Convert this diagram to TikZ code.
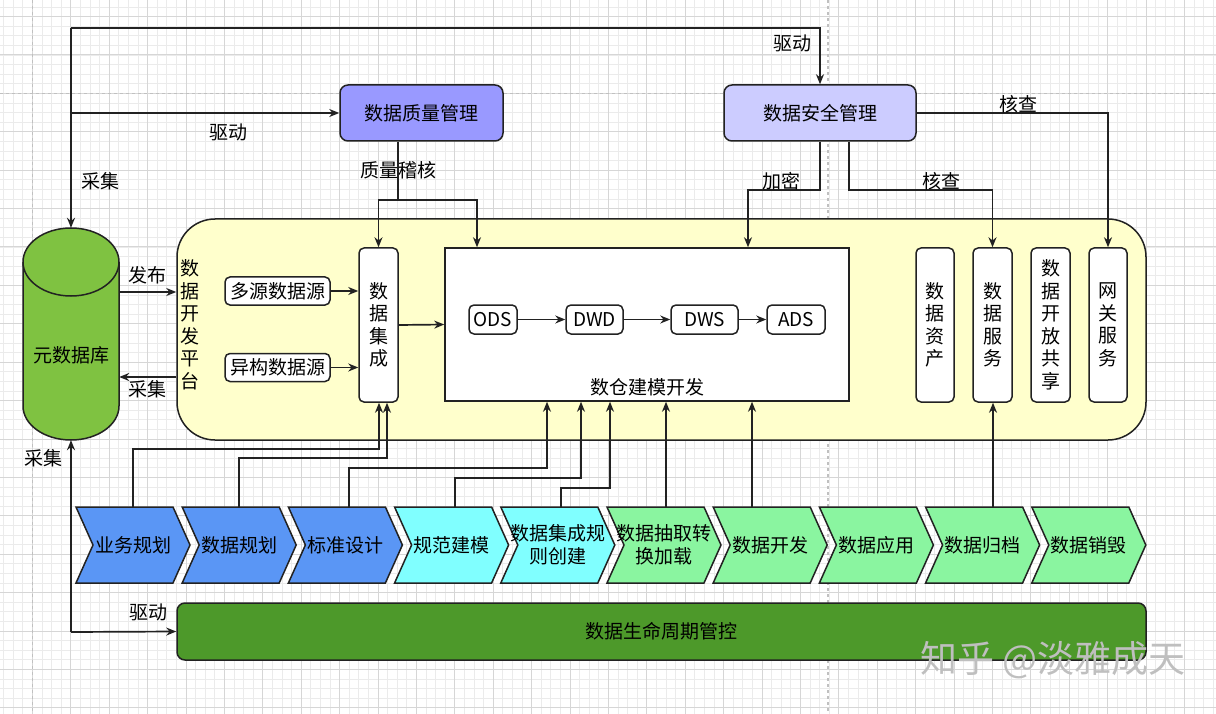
\documentclass[tikz,border=0pt]{standalone}
\usepackage{fontspec}
\setmainfont{Noto Sans CJK SC}
\usetikzlibrary{arrows.meta}
\definecolor{qmcol}{HTML}{9999FF}
\definecolor{smcol}{HTML}{CCCCFF}
\definecolor{platcol}{HTML}{FFFFCC}
\definecolor{dbcol}{HTML}{7FC241}
\definecolor{lifecol}{HTML}{4D992A}
\definecolor{cblue}{HTML}{5A96F5}
\definecolor{ccyan}{HTML}{80FFFF}
\definecolor{cgreen}{HTML}{8AF5A0}
\definecolor{lnc}{HTML}{222222}
\definecolor{gminor}{HTML}{EBEBEB}
\definecolor{gmajor}{HTML}{D6D6D6}
\definecolor{gpage}{HTML}{C0C0C0}
\newcommand\myfs{\fontsize{19}{22.5}\selectfont}
\tikzset{
  lbl/.style={font=\myfs, inner sep=0pt, text=black},
  box/.style={draw=lnc, line width=1.5pt, rounded corners=5pt, fill=white, inner sep=0pt, font=\myfs, align=center},
  arr/.style={-{Stealth[length=10pt,width=8pt]}, line width=1.7pt, draw=lnc},
  ln/.style={line width=1.7pt, draw=lnc},
  chev/.style={draw=lnc, line width=1.5pt},
}
\begin{document}
\begin{tikzpicture}[x=1pt,y=-1pt]
\useasboundingbox (0,0) rectangle (1216,714);
\fill[white] (0,0) rectangle (1216,714);
% grid
\foreach \k in {0,...,126} \draw[gminor, line width=0.7pt] ({3.5+9.6*\k},0) -- ({3.5+9.6*\k},714);
\foreach \k in {0,...,74} \draw[gminor, line width=0.7pt] (0,{6.9+9.6*\k}) -- (1216,{6.9+9.6*\k});
\foreach \k in {0,...,31} \draw[gmajor, line width=0.8pt] ({32.3+38.4*\k},0) -- ({32.3+38.4*\k},714);
\foreach \k in {0,...,18} \draw[gmajor, line width=0.8pt] (0,{16.5+38.4*\k}) -- (1216,{16.5+38.4*\k});
\draw[gpage, dashed, line width=1.2pt] (32.3,0) -- (32.3,714);
\draw[gpage, dashed, line width=1.2pt] (828,0) -- (828,714);
\draw[gpage, dashed, line width=1.2pt] (0,93.3) -- (1216,93.3);

% platform
\node[draw=lnc, line width=1.5pt, fill=platcol, rounded corners=38pt, minimum width=969pt, minimum height=221pt, inner sep=0pt] (plat) at (661.5,329.5) {};
\node[lbl, align=center] (plabel) at (190,325) {数\\据\\开\\发\\平\\台};

% top management boxes
\node[box, fill=qmcol, rounded corners=8pt, minimum width=163pt, minimum height=56pt] (qm) at (421.5,113) {数据质量管理};
\node[box, fill=smcol, rounded corners=8pt, minimum width=192pt, minimum height=56pt] (sm) at (820,113) {数据安全管理};

% metadata cylinder
\node[minimum width=96pt, minimum height=212pt, inner sep=0pt] (db) at (71,334) {};
\draw[fill=dbcol, draw=lnc, line width=1.5pt] (23,262) -- (23,406) arc (180:360:48pt and 34pt) -- (119,262) arc (0:180:48pt and 34pt) -- cycle;
\draw[draw=lnc, line width=1.5pt] (23,262) arc (180:360:48pt and 34pt);
\node[lbl] at (71,355) {元数据库};

% sources and integration
\node[box, minimum width=105pt, minimum height=28pt] (src1) at (277.5,291) {多源数据源};
\node[box, minimum width=105pt, minimum height=28pt] (src2) at (277.5,367.5) {异构数据源};
\node[box, minimum width=39pt, minimum height=154pt] (integ) at (378.5,325) {数\\据\\集\\成};

% warehouse
\node[draw=lnc, line width=1.5pt, fill=white, minimum width=404pt, minimum height=153pt, inner sep=0pt] (dw) at (647,324.5) {};
\node[lbl] (dwlabel) at (647,387) {数仓建模开发};
\node[box, minimum width=48pt, minimum height=29pt] (ods) at (493,319.5) {ODS};
\node[box, minimum width=57pt, minimum height=29pt] (dwd) at (594.5,319.5) {DWD};
\node[box, minimum width=67pt, minimum height=29pt] (dws) at (704.5,319.5) {DWS};
\node[box, minimum width=58pt, minimum height=29pt] (ads) at (796,319.5) {ADS};

% right columns
\node[box, minimum width=38pt, minimum height=154pt] (asset) at (935,325) {数\\据\\资\\产};
\node[box, minimum width=39pt, minimum height=154pt] (service) at (992.5,325) {数\\据\\服\\务};
\node[box, minimum width=39pt, minimum height=154pt] (share) at (1050.5,325) {数\\据\\开\\放\\共\\享};
\node[box, minimum width=38pt, minimum height=154pt] (gateway) at (1108,325) {网\\关\\服\\务};

% chevrons
\foreach \i/\t/\c in {0/业务规划/cblue, 1/数据规划/cblue, 2/标准设计/cblue, 3/规范建模/ccyan, 4/{数据集成规\\则创建}/ccyan, 5/{数据抽取转\\换加载}/cgreen, 6/数据开发/cgreen, 7/数据应用/cgreen, 8/数据归档/cgreen, 9/数据销毁/cgreen} {
  \pgfmathsetmacro\L{76+106.2*\i}
  \draw[chev, fill=\c] (\L,507) -- ++(97,0) -- ++(17,38) -- ++(-17,38) -- ++(-97,0) -- ++(17,-38) -- cycle;
  \node[lbl, align=center, minimum width=114pt, minimum height=76pt] (c\i) at ({\L+57},545) {\t};
}

% lifecycle bar
\node[draw=lnc, line width=1.5pt, fill=lifecol, rounded corners=8pt, minimum width=969pt, minimum height=57pt, inner sep=0pt, font=\myfs] (life) at (661.5,631.5) {数据生命周期管控};

% ---- connectors ----
\coordinate (tl) at (71,28);
\coordinate (ml) at (71,113);
\coordinate (bl) at (71,632);
\draw[arr] (tl) -- (db.north);
\draw[arr] (tl) -| (sm.north);
\draw[arr] (ml) -- (qm.west);
\draw[arr] (bl) -- (db.south);
\draw[arr] (bl) -- (life.west);

\coordinate (pub) at (150,292);
\coordinate (col) at (150,377);
\draw[arr] (db.east |- pub) -- (plat.west |- pub);
\draw[arr] (plat.west |- col) -- (db.east |- col);

% quality
\coordinate (qj) at (398,200);
\coordinate (qk) at (477,200);
\draw[ln] (qm.south -| qj) -- (qj);
\draw[arr] (qj) -| (integ.north);
\draw[arr] (qj) -- (qk) -- (qk |- dw.north);

% security
\coordinate (s2) at (748,190);
\coordinate (s3) at (849,190);
\draw[arr] (sm.south) |- (s2) -- (s2 |- dw.north);
\draw[arr] (sm.south -| s3) -- (s3) -| (service.north);
\draw[arr] (sm.east) -| (gateway.north);

% inner flows
\draw[arr] (src1.east) -- (integ.west |- src1.east);
\draw[arr] (src2.east) -- (integ.west |- src2.east);
\draw[arr] (integ.east) -- (dw.west);
\draw[arr] (ods) -- (dwd);
\draw[arr] (dwd) -- (dws);
\draw[arr] (dws) -- (ads);

% chevron feeds
\coordinate (k0) at (133,449); \coordinate (k0b) at (379,449);
\coordinate (k1) at (239,458); \coordinate (k1b) at (387,458);
\coordinate (k2) at (349,468); \coordinate (k2b) at (547,468);
\coordinate (k3) at (455,478); \coordinate (k3b) at (581,478);
\coordinate (k4) at (561,488); \coordinate (k4b) at (610,488);
\coordinate (k5) at (666,0);
\coordinate (k6) at (752,0);
\coordinate (k8) at (993,0);
\draw[arr] (c0.north -| k0) -- (k0) -- (k0b) -- (k0b |- integ.south);
\draw[arr] (c1.north -| k1) -- (k1) -- (k1b) -- (k1b |- integ.south);
\draw[arr] (c2.north -| k2) -- (k2) -- (k2b) -- (k2b |- dw.south);
\draw[arr] (c3.north -| k3) -- (k3) -- (k3b) -- (k3b |- dw.south);
\draw[arr] (c4.north -| k4) -- (k4) -- (k4b) -- (k4b |- dw.south);
\draw[arr] (c5.north -| k5) -- (k5 |- dw.south);
\draw[arr] (c6.north -| k6) -- (k6 |- dw.south);
\draw[arr] (c8.north -| k8) -- (k8 |- service.south);

% labels
\node[lbl] at (792,43) {驱动};
\node[lbl] at (100,181) {采集};
\node[lbl] at (228,132) {驱动};
\node[lbl] at (398,170) {质量稽核};
\node[lbl] at (781,181) {加密};
\node[lbl] at (941,181) {核查};
\node[lbl] at (1018,104) {核查};
\node[lbl] at (147,275) {发布};
\node[lbl] at (147,389) {采集};
\node[lbl] at (43,458) {采集};
\node[lbl] at (148,612) {驱动};

% watermark
\node[font=\fontsize{37}{40}\selectfont, text=black!25, inner sep=0pt] at (1053,660) {知乎 @淡雅成天};
\end{tikzpicture}
\end{document}
